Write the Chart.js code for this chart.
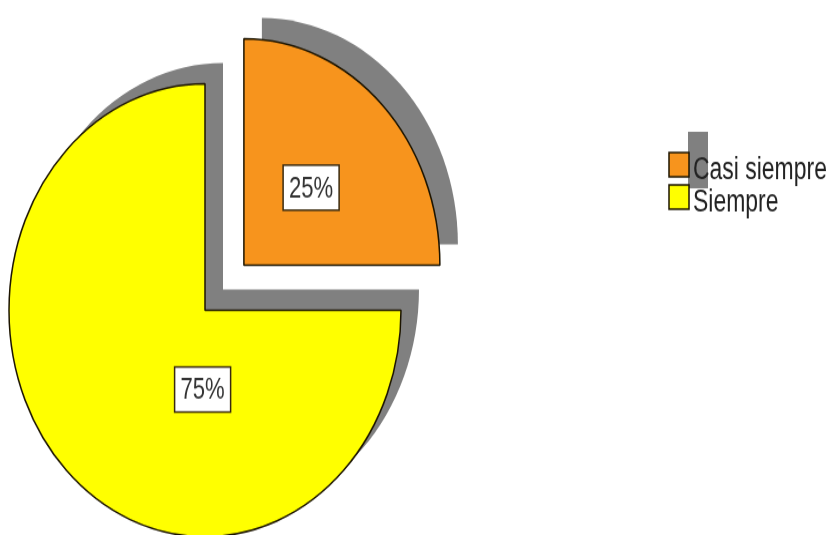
<!DOCTYPE html>
<html>
<head>
<meta charset="utf-8">
<script src="https://cdn.jsdelivr.net/npm/chart.js@4.4.1/dist/chart.umd.min.js"></script>
<style>
  html, body { margin: 0; padding: 0; background: #fff; overflow: hidden; }
  #wrap { width: 835px; height: 535px; overflow: hidden; position: relative; }
  /* the drawing is stretched vertically, which turns the pie into an upright ellipse */
  #c { transform: scaleY(1.1555); transform-origin: 0 0; }
</style>
</head>
<body>
<div id="wrap">
  <canvas id="c" width="835" height="463" style="width:835px;height:463px"></canvas>
</div>
<script>
// Frecuencia de respuestas
const categories = ['Casi siempre', 'Siempre'];
const percentages = [25, 75];
const sliceColors = ['#F7941D', '#FFFF00'];
const explode = [220, 0];

// where each percentage box sits: angle (deg) and distance (fraction of radius) from its slice centre
const labelPlacement = [
  { angle: -45, dist: 0.485 },
  { angle: 92, dist: 0.35 }
];

const FONT = "'Liberation Sans', Arial, sans-serif";
const TEXT_SQUEEZE = 0.85;   // condensed lettering
const SHADOW = { dx: 18, dy: -18, color: '#808080' };
const OUTLINE = '#1c1400';

function sliceCenter(arc) {
  const half = (arc.startAngle + arc.endAngle) / 2;
  const off = (arc.options.offset || 0) / 4;
  return { x: arc.x + Math.cos(half) * off, y: arc.y + Math.sin(half) * off };
}

function condensedText(ctx, text, x, y) {
  ctx.save();
  ctx.translate(x, y);
  ctx.scale(TEXT_SQUEEZE, 1);
  ctx.fillText(text, 0, 0);
  ctx.restore();
}

// grey drop shadow behind every slice
const pieShadow = {
  id: 'pieShadow',
  beforeDatasetsDraw(chart) {
    const ctx = chart.ctx;
    ctx.save();
    ctx.fillStyle = SHADOW.color;
    chart.getDatasetMeta(0).data.forEach(arc => {
      const c = sliceCenter(arc);
      const x = c.x + SHADOW.dx, y = c.y + SHADOW.dy;
      ctx.beginPath();
      ctx.moveTo(x, y);
      ctx.arc(x, y, arc.outerRadius, arc.startAngle, arc.endAngle);
      ctx.closePath();
      ctx.fill();
    });
    ctx.restore();
  }
};

// boxed percentage labels
const valueLabels = {
  id: 'valueLabels',
  afterDatasetsDraw(chart) {
    const ctx = chart.ctx;
    const values = chart.data.datasets[0].data;
    ctx.save();
    ctx.font = '26px ' + FONT;
    ctx.textAlign = 'center';
    ctx.textBaseline = 'middle';
    chart.getDatasetMeta(0).data.forEach((arc, i) => {
      const c = sliceCenter(arc);
      const p = labelPlacement[i];
      const a = p.angle * Math.PI / 180;
      const x = c.x + Math.cos(a) * p.dist * arc.outerRadius;
      const y = c.y + Math.sin(a) * p.dist * arc.outerRadius;
      const w = 56, h = 39;
      ctx.fillStyle = '#ffffff';
      ctx.fillRect(x - w / 2, y - h / 2, w, h);
      ctx.lineWidth = 1.5;
      ctx.strokeStyle = '#3a2a10';
      ctx.strokeRect(x - w / 2, y - h / 2, w, h);
      ctx.fillStyle = '#333333';
      condensedText(ctx, values[i] + '%', x, y + 1);
    });
    ctx.restore();
  }
};

// legend at the right with its shadowed key column
const sideLegend = {
  id: 'sideLegend',
  afterDraw(chart) {
    const ctx = chart.ctx;
    const labels = chart.data.labels;
    const colors = chart.data.datasets[0].backgroundColor;
    const x0 = 669, y0 = 132, box = 20, boxH = 21, row = 28;
    ctx.save();
    ctx.fillStyle = SHADOW.color;
    ctx.fillRect(x0 + 19, y0 - 18, box, row * (labels.length - 1) + boxH);
    ctx.font = '27px ' + FONT;
    ctx.textBaseline = 'alphabetic';
    ctx.textAlign = 'left';
    labels.forEach((lab, i) => {
      const y = y0 + i * row;
      ctx.fillStyle = colors[i];
      ctx.fillRect(x0, y, box, boxH);
      ctx.lineWidth = 1.5;
      ctx.strokeStyle = OUTLINE;
      ctx.strokeRect(x0, y, box, boxH);
      ctx.fillStyle = '#222222';
      condensedText(ctx, lab, x0 + box + 4, y + 23);
    });
    ctx.restore();
  }
};

new Chart(document.getElementById('c'), {
  type: 'pie',
  data: {
    labels: categories,
    datasets: [{
      data: percentages,
      backgroundColor: sliceColors,
      borderColor: OUTLINE,
      borderWidth: 1.5,
      offset: explode,
      radius: 196,
      clip: false
    }]
  },
  options: {
    responsive: false,
    animation: false,
    events: [],
    layout: { padding: { left: 0, right: 425, top: 74, bottom: 0 } },
    plugins: {
      legend: { display: false },
      tooltip: { enabled: false }
    }
  },
  plugins: [pieShadow, valueLabels, sideLegend]
});
</script>
</body>
</html>
